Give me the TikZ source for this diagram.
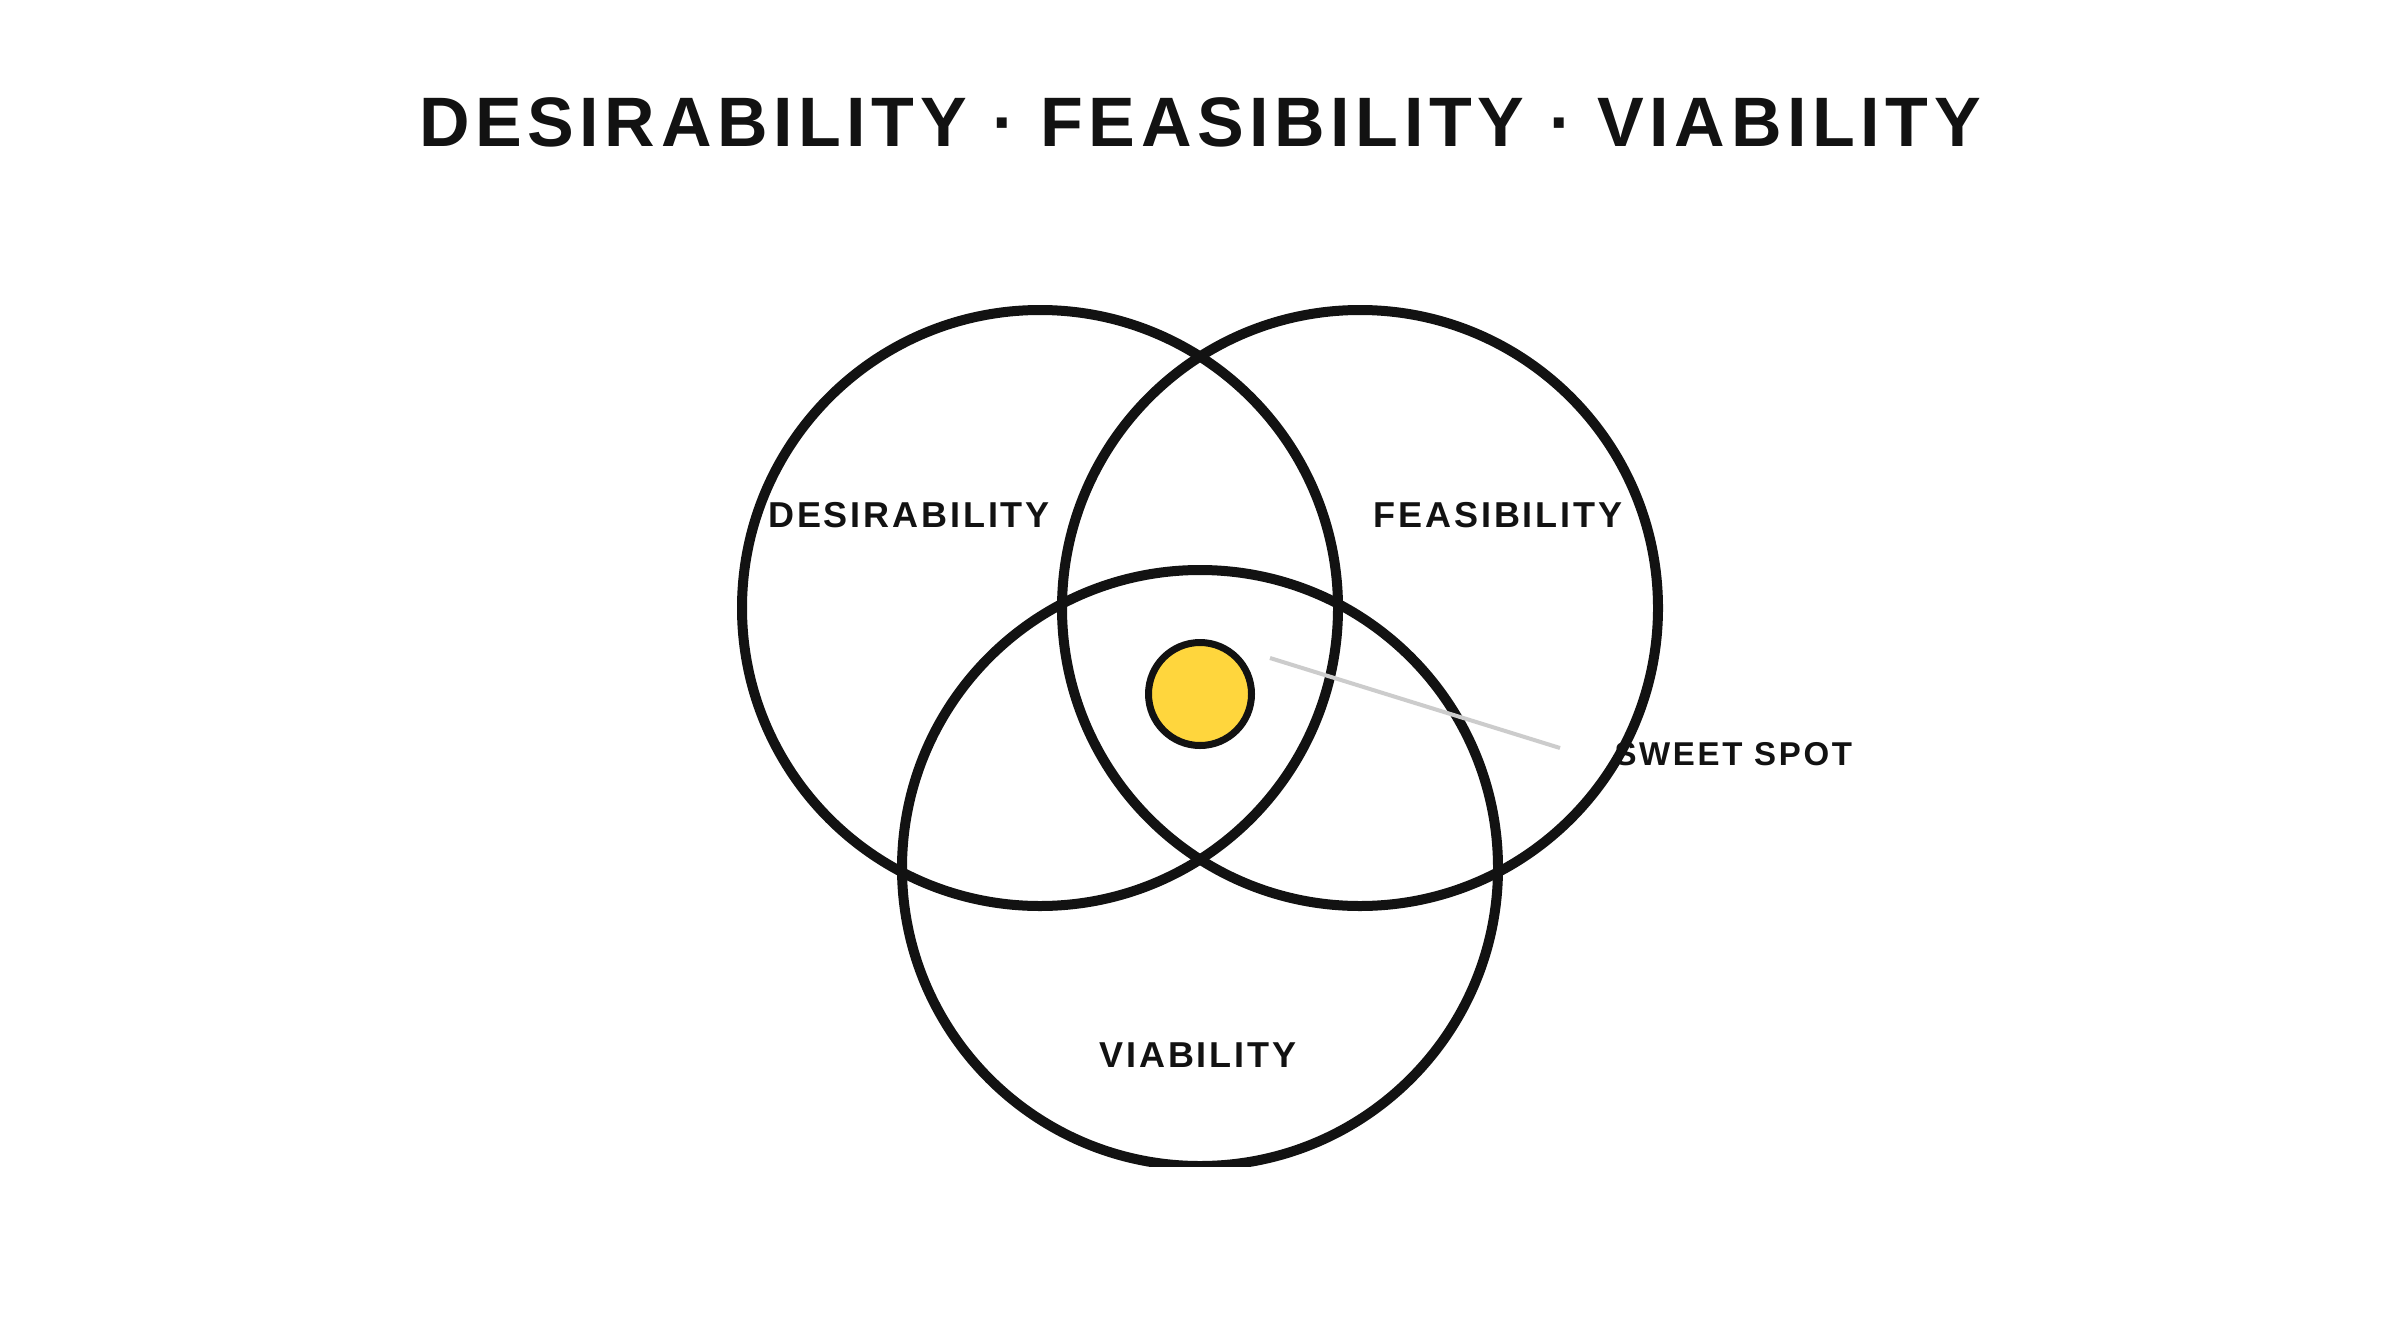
\documentclass[tikz,border=0pt]{standalone}
\usepackage{fontspec}
\setmainfont{Liberation Sans}
\newfontfamily\titlefont{Liberation Sans}[LetterSpace=8]
\newfontfamily\labelfont{Liberation Sans}[LetterSpace=8]
\newfontfamily\spotfont{Liberation Sans}[LetterSpace=8]
\definecolor{ink}{HTML}{121212}
\definecolor{sun}{HTML}{FFD63D}
\definecolor{lead}{HTML}{CCCCCC}
\tikzset{
  ring/.style={circle, draw=ink, line width=10pt, inner sep=0pt, minimum size=596pt},
  dot/.style={circle, draw=ink, fill=sun, line width=7pt, inner sep=0pt, minimum size=103pt},
  titletext/.style={anchor=base, text=ink, font=\titlefont\bfseries\fontsize{70}{84}\selectfont},
  labeltext/.style={anchor=base, text=ink, font=\labelfont\bfseries\fontsize{36}{42}\selectfont},
  spottext/.style={anchor=base west, text=ink, font=\spotfont\bfseries\fontsize{33}{40}\selectfont},
  leader/.style={draw=lead, line width=4pt}
}
\begin{document}
\begin{tikzpicture}[x=1pt,y=-1pt]
\useasboundingbox (0,0) rectangle (2400,1330);
\fill[white] (0,0) rectangle (2400,1330);
\node[titletext] (title) at (1200,146) {DESIRABILITY · FEASIBILITY · VIABILITY};
\node[ring] (des) at (1040,608) {};
\node[ring] (fea) at (1360,608) {};
\begin{scope}
\clip (0,0) rectangle (2400,1166);
\node[ring] (via) at (1200,868) {};
\end{scope}
\node[dot] (spot) at (1200,694) {};
\coordinate (l1) at (1270,658);
\coordinate (l2) at (1560,748);
\draw[leader] (l1) -- (l2);
\node[labeltext] (ldes) at (909,527) {DESIRABILITY};
\node[labeltext] (lfea) at (1498,527) {FEASIBILITY};
\node[labeltext] (lvia) at (1198,1067) {VIABILITY};
\node[spottext] (lspot) at (1611,765) {SWEET SPOT};
\end{tikzpicture}
\end{document}
